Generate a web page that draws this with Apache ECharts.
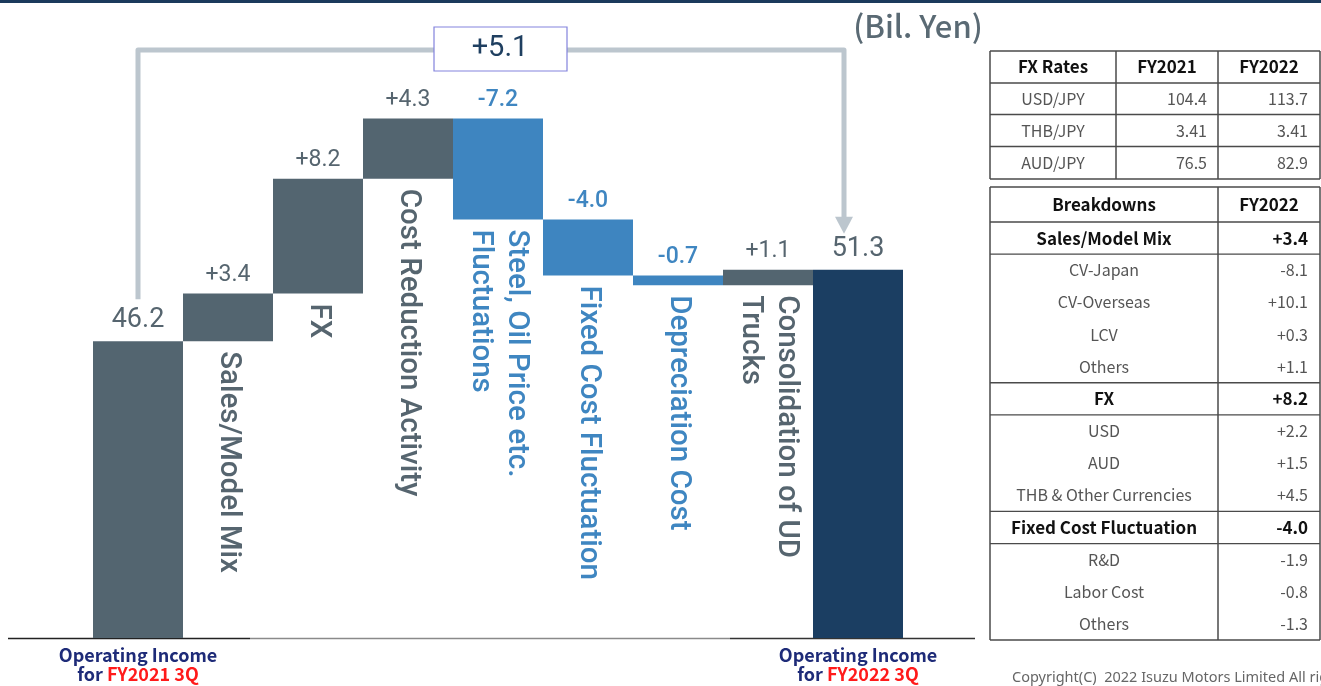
<!DOCTYPE html>
<html><head><meta charset="utf-8">
<script src="https://cdn.jsdelivr.net/npm/echarts@6/dist/echarts.min.js"></script>
<style>html,body{margin:0;padding:0;background:#fff}#c{width:1321px;height:686px}</style>
</head><body><div id="c"></div>
<script>
// ---------- data ----------
const categories = ['Operating Income\nfor FY2021 3Q','Sales/Model Mix','FX','Cost Reduction Activity','Steel, Oil Price etc.\nFluctuations','Fixed Cost Fluctuation','Depreciation Cost','Consolidation of UD\nTrucks','Operating Income\nfor FY2022 3Q'];
const startValue = 46.2;
const deltas = [3.4, 8.2, 4.3, -7.2, -4.0, -0.7, 1.1];
const endValue = 51.3;
const totalChangeLabel = '+5.1';
const unitLabel = '(Bil. Yen)';

const fxHeader = ['FX Rates','FY2021','FY2022'];
const fxPairs = ['USD/JPY','THB/JPY','AUD/JPY'];
const fx2021 = ['104.4','3.41','76.5'];
const fx2022 = ['113.7','3.41','82.9'];

const bdHeader = ['Breakdowns','FY2022'];
const bdItems = ['Sales/Model Mix','CV-Japan','CV-Overseas','LCV','Others','FX','USD','AUD','THB & Other Currencies','Fixed Cost Fluctuation','R&D','Labor Cost','Others'];
const bdValues = ['+3.4','-8.1','+10.1','+0.3','+1.1','+8.2','+2.2','+1.5','+4.5','-4.0','-1.9','-0.8','-1.3'];
const bdIsGroup = [true,false,false,false,false,true,false,false,false,true,false,false,false];
const copyright = 'Copyright(C)  2022 Isuzu Motors Limited All rights reserved.';

// ---------- derived waterfall ----------
const GRAY = '#536570', BLUE = '#3e85c0', NAVY = '#1b3e62';
const LGRAY = '#56656f', LBLUE = '#3f86c1';
const base = [0], height = [startValue];
let run = startValue;
deltas.forEach(d => {
  const lo = d >= 0 ? run : run + d;
  base.push(Math.round(lo * 10) / 10);
  height.push(Math.abs(d));
  run = Math.round((run + d) * 10) / 10;
});
base.push(0); height.push(endValue);

const visData = height.map((h, i) => {
  const first = i === 0, last = i === height.length - 1;
  const d = (!first && !last) ? deltas[i - 1] : null;
  const color = last ? NAVY : (first || d >= 0 ? GRAY : BLUE);
  const lcolor = (d !== null && d < 0) ? LBLUE : LGRAY;
  const txt = first ? startValue.toFixed(1) : last ? endValue.toFixed(1) : (d > 0 ? '+' : '') + d.toFixed(1);
  return { value: h, itemStyle: { color }, label: { color: lcolor, formatter: txt, fontSize: (first || last) ? 27 : 23, fontWeight: (d !== null && d < 0) ? 500 : 'normal' } };
});
const baseData = base.map((b, i) => {
  const first = i === 0, last = i === base.length - 1;
  const d = (!first && !last) ? deltas[i - 1] : null;
  return { value: b, label: { show: !first && !last, color: (d !== null && d < 0) ? LBLUE : LGRAY } };
});

const chart = echarts.init(document.getElementById('c'), null, { renderer: 'canvas' });
const FONT = 'Roboto, "Noto Sans", sans-serif';
const JFONT = '"Noto Sans CJK JP", "Noto Sans", sans-serif';

chart.setOption({
  animation: false,
  backgroundColor: '#fff',
  grid: { left: 93, right: 418, top: 78, bottom: 48 },
  xAxis: {
    type: 'category', data: categories,
    axisLine: { show: false }, axisTick: { show: false },
    axisLabel: {
      interval: 0, margin: 8,
      formatter: (v, i) => {
        if (i !== 0 && i !== categories.length - 1) return '';
        const parts = v.split('\n');
        const m = parts[1].match(/^(for )(.*)$/);
        return '{a|' + parts[0] + '}\n{a|' + m[1] + '}{r|' + m[2] + '}';
      },
      rich: {
        a: { color: '#1e2b78', fontSize: 18, fontWeight: 'bold', fontFamily: JFONT, lineHeight: 19 },
        r: { color: '#ff1a1a', fontSize: 18, fontWeight: 'bold', fontFamily: JFONT, lineHeight: 19 }
      }
    }
  },
  yAxis: { type: 'value', min: 25, max: 65, show: false, splitLine: { show: false } },
  series: [
    {
      type: 'bar', stack: 'w', barCategoryGap: '0%', data: baseData,
      itemStyle: { color: 'rgba(0,0,0,0)' },
      label: {
        show: true, position: 'insideTop', distance: 10, rotate: -90,
        align: 'left', verticalAlign: 'middle',
        fontSize: 29.5, fontWeight: 500, lineHeight: 36, fontFamily: FONT,
        formatter: p => (p.dataIndex === 0 || p.dataIndex === categories.length - 1) ? '' : categories[p.dataIndex]
      }
    },
    {
      type: 'bar', stack: 'w', barCategoryGap: '0%', data: visData,
      label: { show: true, position: 'top', distance: 7, fontFamily: FONT }
    }
  ]
});

// ---------- annotations & table ----------
const g = [];
g.push({ type: 'rect', shape: { x: 0, y: 0, width: 1321, height: 3 }, style: { fill: '#1b3a5c' } });
// baseline
g.push({ type: 'line', shape: { x1: 8, y1: 638.5, x2: 250, y2: 638.5 }, style: { stroke: '#222', lineWidth: 1.5 } });
g.push({ type: 'line', shape: { x1: 250, y1: 638.5, x2: 730, y2: 638.5 }, style: { stroke: '#8a8a8a', lineWidth: 1.5 } });
g.push({ type: 'line', shape: { x1: 730, y1: 638.5, x2: 975, y2: 638.5 }, style: { stroke: '#333', lineWidth: 1.5 } });

const p0 = chart.convertToPixel({ gridIndex: 0 }, [0, startValue]);
const p8 = chart.convertToPixel({ gridIndex: 0 }, [categories.length - 1, endValue]);
const xL = p0[0], xR = p8[0] - 14, yTop = 50;
const tipY = p8[1] - 36;
const ACOL = '#bcc6ce';
g.push({ type: 'polyline', shape: { points: [[xL, p0[1] - 42], [xL, yTop], [xR, yTop], [xR, tipY - 14]] }, style: { stroke: ACOL, lineWidth: 5, fill: null, lineJoin: 'round' } });
g.push({ type: 'polygon', shape: { points: [[xR - 9, tipY - 17], [xR + 9, tipY - 17], [xR, tipY]] }, style: { fill: ACOL } });
g.push({ type: 'rect', shape: { x: 434, y: 27, width: 133, height: 44 }, style: { fill: '#fff', stroke: '#8383dd', lineWidth: 1.2 } });
g.push({ type: 'text', x: 500, y: 49, style: { text: totalChangeLabel, fill: '#1f3f60', font: 'normal 29px ' + FONT, align: 'center', verticalAlign: 'middle' } });
g.push({ type: 'text', x: 918, y: 26, style: { text: unitLabel, fill: '#5a6a74', font: '500 31px ' + JFONT, align: 'center', verticalAlign: 'middle' } });

// table helpers
const LC = '#4a4a4a';
function hl(x1, x2, y, w) { g.push({ type: 'line', shape: { x1, y1: y, x2, y2: y }, style: { stroke: LC, lineWidth: w || 1.3 } }); }
function vl(x, y1, y2) { g.push({ type: 'line', shape: { x1: x, y1, x2: x, y2 }, style: { stroke: LC, lineWidth: 1.5 } }); }
function tx(t, x, y, align, bold) {
  g.push({ type: 'text', x, y, style: { text: t, fill: bold ? '#111' : '#555', font: (bold ? 'bold 17px ' : '16px ') + JFONT, align, verticalAlign: 'middle' } });
}
// FX table
const c1 = [990, 1116, 1218, 1320];
const r1 = [51, 83, 114.5, 146.5, 179];
r1.forEach(y => hl(990, 1320, y, 1.4));
c1.forEach(x => vl(x, 51, 179));
tx(fxHeader[0], (c1[0] + c1[1]) / 2, (r1[0] + r1[1]) / 2, 'center', true);
tx(fxHeader[1], (c1[1] + c1[2]) / 2, (r1[0] + r1[1]) / 2, 'center', true);
tx(fxHeader[2], (c1[2] + c1[3]) / 2, (r1[0] + r1[1]) / 2, 'center', true);
fxPairs.forEach((p, i) => {
  const yc = (r1[i + 1] + r1[i + 2]) / 2;
  tx(p, (c1[0] + c1[1]) / 2, yc, 'center', false);
  tx(fx2021[i], c1[2] - 11, yc, 'right', false);
  tx(fx2022[i], c1[3] - 12, yc, 'right', false);
});
// Breakdown table
const c2 = [990, 1218, 1320];
const top2 = 187, hdr2 = 222, bot2 = 640;
const rh = (bot2 - hdr2) / bdItems.length;
c2.forEach(x => vl(x, top2, bot2));
hl(990, 1320, top2, 1.4); hl(990, 1320, hdr2, 1.4); hl(990, 1320, bot2, 1.4);
tx(bdHeader[0], (c2[0] + c2[1]) / 2, (top2 + hdr2) / 2, 'center', true);
tx(bdHeader[1], (c2[1] + c2[2]) / 2, (top2 + hdr2) / 2, 'center', true);
bdItems.forEach((it, i) => {
  const yc = hdr2 + rh * (i + 0.5);
  const grp = bdIsGroup[i];
  if (grp) {
    if (i > 0) hl(990, 1320, hdr2 + rh * i, 1.3);
    hl(990, 1320, hdr2 + rh * (i + 1), 1.3);
  }
  tx(it, (c2[0] + c2[1]) / 2, yc, 'center', grp);
  tx(bdValues[i], c2[2] - 12, yc, 'right', grp);
});
g.push({ type: 'text', x: 1012, y: 678, style: { text: copyright, fill: '#666', font: '14.5px "Noto Sans", sans-serif', align: 'left', verticalAlign: 'middle' } });

chart.setOption({ graphic: g });
</script></body></html>
